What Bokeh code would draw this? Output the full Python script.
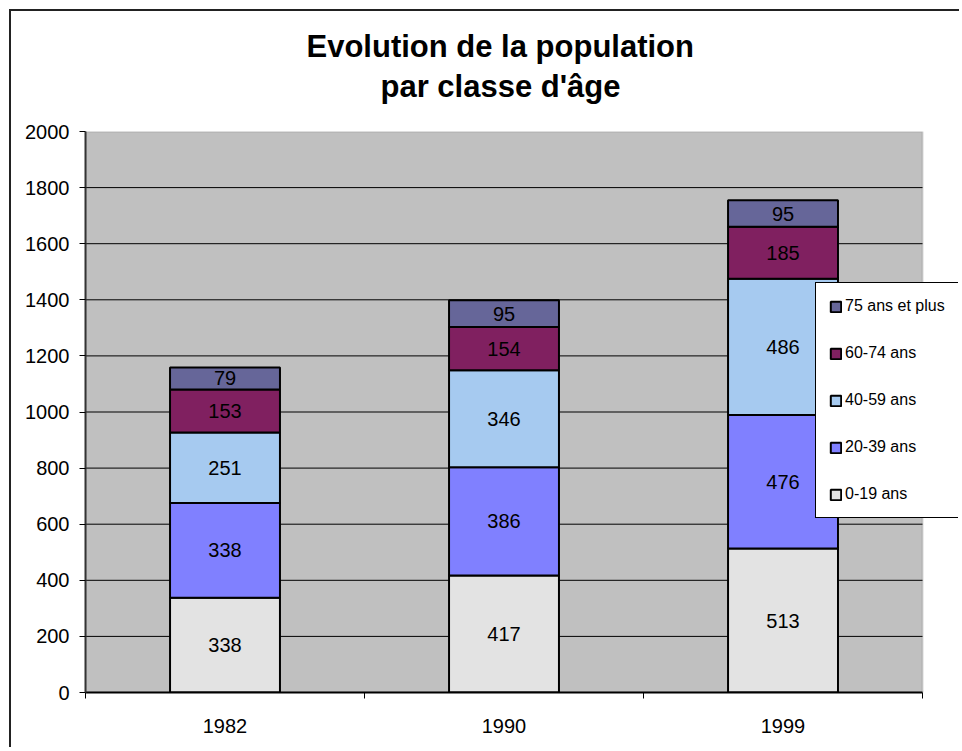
import numpy as np
from bokeh.plotting import figure
from bokeh.models import ColumnDataSource, Range1d, FixedTicker, Title, BoxAnnotation
from bokeh.core.properties import value
from bokeh.embed import file_html
from bokeh.resources import INLINE

years = ["1982", "1990", "1999"]
groups = ["0-19 ans", "20-39 ans", "40-59 ans", "60-74 ans", "75 ans et plus"]
v_0_19 = [338, 417, 513]
v_20_39 = [338, 386, 476]
v_40_59 = [251, 346, 486]
v_60_74 = [153, 154, 185]
v_75_plus = [79, 95, 95]
y_ticks = [0, 200, 400, 600, 800, 1000, 1200, 1400, 1600, 1800, 2000]
colors = ["#E3E3E3", "#8080FF", "#A6CAF0", "#802060", "#666699"]

series = [v_0_19, v_20_39, v_40_59, v_60_74, v_75_plus]
n = len(years)
xpos = list(np.arange(n) + 0.5)
Y_MAX = y_ticks[-1]

data = {"x": xpos}
for g, s in zip(groups, series):
    data[g] = s
source = ColumnDataSource(data)

FONT = "Liberation Sans"
X_EXTRA = 1.043  # frame extends right of the plot area so the legend can overlap

p = figure(width=950, height=738, output_backend="svg", toolbar_location=None,
           x_range=Range1d(0, n * X_EXTRA), y_range=Range1d(0, Y_MAX),
           title="Evolution de la population",
           min_border_left=74, min_border_right=3, min_border_top=120, min_border_bottom=57,
           styles={"margin-left": "9px", "margin-top": "9px",
                   "border-left": "2px solid #222222", "border-top": "2px solid #222222"})

p.title.align = "left"
p.title.offset = 221
p.title.text_font = FONT
p.title.text_font_size = "31px"
p.title.text_font_style = "bold"
p.title.text_color = "black"
p.title.standoff = 5

# spacer between plot area and second title line
spacer = Title(text=" ", text_font_size="1px", standoff=25)
p.add_layout(spacer, "above")
t2 = Title(text="par classe d'âge", align="left", offset=295, text_font=FONT,
           text_font_size="31px", text_font_style="bold", text_color="black", standoff=0)
p.add_layout(t2, "above")

p.background_fill_color = "white"
p.border_fill_color = "white"
p.outline_line_color = None

# plot area (gray) with its gray top/right border
area = BoxAnnotation(left=0, right=n, bottom=0, top=Y_MAX, fill_color="#C0C0C0", fill_alpha=1.0,
                     line_color="#808080", line_width=2, level="underlay")
p.add_layout(area)

# horizontal gridlines limited to the plot area
grid_y = y_ticks[1:-1]
p.segment(x0=[0] * len(grid_y), x1=[n] * len(grid_y), y0=grid_y, y1=grid_y,
          line_color="black", line_width=1)

renderers = p.vbar_stack(groups, x="x", width=0.394, source=source, color=colors,
                         line_color="black", line_width=2, legend_label=groups)

# segment labels
bottom = np.zeros(n)
for s in series:
    arr = np.array(s, dtype=float)
    mid = bottom + arr / 2
    p.text(x=xpos, y=list(mid), text=[str(v) for v in s], text_align="center",
           text_baseline="middle", text_font=value(FONT), text_font_size="20px",
           text_color="black")
    bottom = bottom + arr

# axes
p.xaxis.bounds = (0, n)
p.xaxis.ticker = FixedTicker(ticks=xpos, minor_ticks=list(range(n + 1)))
p.xaxis.major_label_overrides = {float(x): y for x, y in zip(xpos, years)}
p.xaxis.major_tick_out = 0
p.xaxis.major_tick_in = 0
p.xaxis.minor_tick_out = 6
p.xaxis.minor_tick_in = 0
p.xaxis.minor_tick_line_color = "black"
p.xaxis.axis_line_color = "black"
p.xaxis.axis_line_width = 2
p.xaxis.major_label_standoff = 20

p.yaxis.ticker = FixedTicker(ticks=y_ticks)
p.yaxis.major_tick_out = 6
p.yaxis.major_tick_in = 0
p.yaxis.minor_tick_line_color = None
p.yaxis.axis_line_color = "#333333"
p.yaxis.axis_line_width = 2
p.yaxis.major_tick_line_color = "black"
p.yaxis.major_label_standoff = 10

for ax in (p.xaxis, p.yaxis):
    ax.major_label_text_font = FONT
    ax.major_label_text_font_size = "20px"
    ax.major_label_text_color = "black"

p.xgrid.visible = False
p.ygrid.visible = False

# legend
leg = p.legend[0]
leg.items = list(reversed(leg.items))
leg.location = (730, 174)
leg.border_line_color = "black"
leg.border_line_alpha = 1.0
leg.border_line_width = 1
leg.background_fill_color = "white"
leg.background_fill_alpha = 1.0
leg.glyph_width = 13
leg.glyph_height = 13
leg.label_text_font = FONT
leg.label_text_font_size = "16px"
leg.label_text_color = "black"
leg.label_standoff = 3
leg.label_height = 20
leg.padding = 13
leg.spacing = 27
leg.margin = 0

open("out.html", "w").write(file_html(p, INLINE))
